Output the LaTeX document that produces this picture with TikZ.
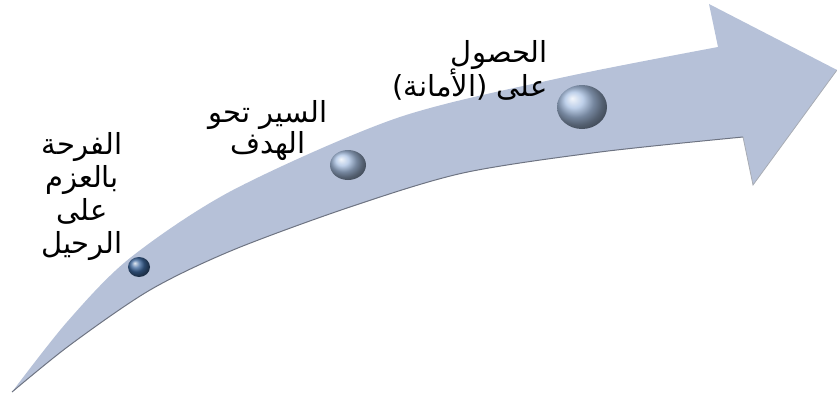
\documentclass[tikz,border=0pt]{standalone}
\usepackage{fontspec}
\newfontfamily\arabicfont[Script=Arabic]{DejaVu Sans}
\TeXXeTstate=1
\newcommand\tightlines{\lineskiplimit-\maxdimen\relax}
\definecolor{bandblue}{RGB}{182,193,216}
\definecolor{bandedge}{RGB}{110,116,130}
\definecolor{balldark}{RGB}{62,104,158}
\definecolor{balllight}{RGB}{168,192,226}

\begin{document}
\begin{tikzpicture}[x=1pt, y=-1pt,
  every node/.style={font=\arabicfont\fontsize{29}{31}\selectfont\tightlines},
  steplabel/.style={inner sep=0pt}]

  % --- 外枠 ---
  \useasboundingbox (0,0) rectangle (837,396);

  % 1. 曲がった矢印
  \fill[bandblue]
    plot[smooth] coordinates {(12,392) (67,322) (130,258) (233,190) (397,118) (560,78) (718,47)}
    -- (709,4) -- (837,70) -- (753,185) -- (743,137)
    -- plot[smooth] coordinates {(743,137) (600,152) (463,173) (350,207) (233,250) (150,290) (70,345) (12,392)}
    -- cycle;
  % 下側の影
  \draw[bandedge, line width=1pt]
    plot[smooth] coordinates {(743,137) (600,152) (463,173) (350,207) (233,250) (150,290) (70,345) (12,392)};
  \draw[bandedge!60, line width=0.8pt] (837,70) -- (753,185) -- (743,137);

  % 2. 玉
  \shade[ball color=balldark] (139,267) ellipse (11pt and 10pt);
  \shade[ball color=balllight] (348,165) ellipse (18pt and 15pt);
  \shade[ball color=balllight] (582,107) ellipse (25pt and 22pt);

  % 3. ラベル
  \node[steplabel, align=center, font=\arabicfont\fontsize{29}{33}\selectfont\tightlines] (joy) at (82,197)
    {\beginR الفرحة\endR\\ \beginR بالعزم\endR\\ \beginR على\endR\\ \beginR الرحيل\endR};
  \node[steplabel, align=center] (walk) at (268,131)
    {\beginR السير تحو\endR\\ \beginR الهدف\endR};
  \node[steplabel, align=right, anchor=east, font=\arabicfont\fontsize{29}{34}\selectfont\tightlines] (trust) at (548,70)
    {\beginR الحصول\endR\\ \beginR على (الأمانة)\endR};

\end{tikzpicture}
\end{document}
